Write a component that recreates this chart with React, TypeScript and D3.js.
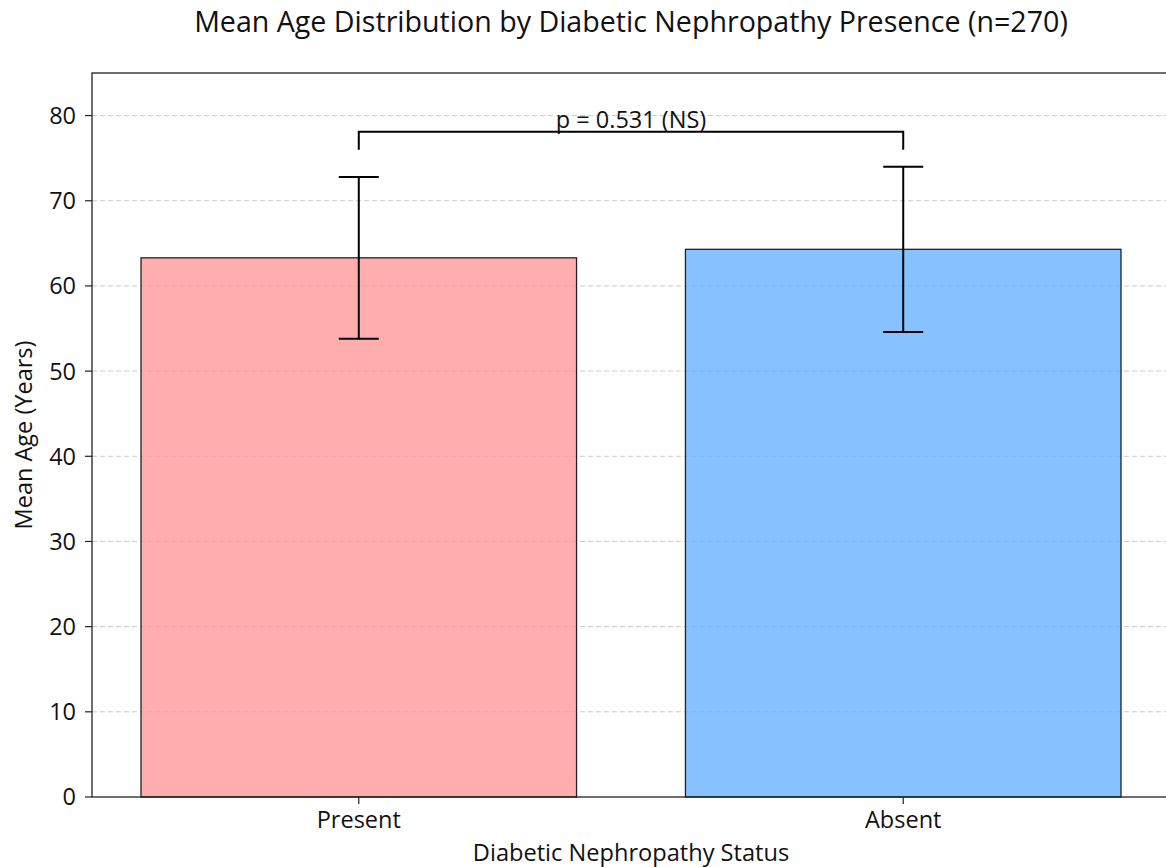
import React from 'react';
import * as d3 from 'd3';

const groups = ['Present', 'Absent'];
const means = [63.3, 64.3];
const sds = [9.5, 9.7];
const barColors = ['#ff9999', '#66b3ff'];
const yTicks = [0, 10, 20, 30, 40, 50, 60, 70, 80];
const pLabel = 'p = 0.531 (NS)';
const bracketTop = 78.1;
const bracketBottom = 76.0;

const font = '"Open Sans", sans-serif';

const App = () => {
  const width = 1166;
  const height = 867;
  const margin = { left: 92, top: 73, right: -4, bottom: 70 };

  const x = d3
    .scaleLinear()
    .domain([-0.49, 1.49])
    .range([margin.left, width - margin.right]);
  const y = d3
    .scaleLinear()
    .domain([0, 85])
    .range([height - margin.bottom, margin.top]);

  const bw = x(0.4) - x(0);
  const capW = 20;

  return (
    <svg
      width={width}
      height={height}
      style={{ position: 'absolute', left: 0, top: 0, background: '#fff' }}
      fontFamily={font}
    >
      <text x={631} y={32} textAnchor="middle" fontSize="28.6px" fill="#111">
        Mean Age Distribution by Diabetic Nephropathy Presence (n=270)
      </text>

      {yTicks.map(t => (
        <g key={t}>
          {t > 0 && (
            <line
              x1={x.range()[0]}
              x2={x.range()[1]}
              y1={y(t)}
              y2={y(t)}
              stroke="#c8c8c8"
              strokeWidth={1}
              strokeDasharray="5,3"
            />
          )}
          <line x1={x.range()[0] - 7} x2={x.range()[0]} y1={y(t)} y2={y(t)} stroke="#222" strokeWidth={1.2} />
          <text
            x={x.range()[0] - 16}
            y={y(t)}
            dy="0.36em"
            textAnchor="end"
            fontSize="23.5px"
            fill="#111"
          >
            {t}
          </text>
        </g>
      ))}

      {groups.map((g, i) => (
        <g key={g}>
          <rect
            x={x(i) - bw}
            y={y(means[i])}
            width={bw * 2}
            height={y(0) - y(means[i])}
            fill={barColors[i]}
            fillOpacity={0.8}
            stroke="#222"
            strokeWidth={1.3}
          />
          <line x1={x(i)} x2={x(i)} y1={y(means[i] + sds[i])} y2={y(means[i] - sds[i])} stroke="#000" strokeWidth={2} />
          <line x1={x(i) - capW} x2={x(i) + capW} y1={y(means[i] + sds[i])} y2={y(means[i] + sds[i])} stroke="#000" strokeWidth={2} />
          <line x1={x(i) - capW} x2={x(i) + capW} y1={y(means[i] - sds[i])} y2={y(means[i] - sds[i])} stroke="#000" strokeWidth={2} />
          <line x1={x(i)} x2={x(i)} y1={y(0)} y2={y(0) + 7} stroke="#222" strokeWidth={1.2} />
          <text x={x(i)} y={y(0) + 31} textAnchor="middle" fontSize="23.5px" fill="#111">
            {g}
          </text>
        </g>
      ))}

      <path
        d={`M${x(0)},${y(bracketBottom)}V${y(bracketTop)}H${x(1)}V${y(bracketBottom)}`}
        fill="none"
        stroke="#000"
        strokeWidth={2}
      />
      <text x={(x(0) + x(1)) / 2} y={y(bracketTop) - 4} textAnchor="middle" fontSize="23.5px" fill="#111">
        {pLabel}
      </text>

      <rect
        x={x.range()[0]}
        y={margin.top}
        width={x.range()[1] - x.range()[0]}
        height={y(0) - margin.top}
        fill="none"
        stroke="#222"
        strokeWidth={1.3}
      />

      <text x={631} y={861} textAnchor="middle" fontSize="23.6px" fill="#111">
        Diabetic Nephropathy Status
      </text>
      <text
        transform={`translate(32, ${(margin.top + y(0)) / 2}) rotate(-90)`}
        textAnchor="middle"
        fontSize="23.5px"
        fill="#111"
      >
        Mean Age (Years)
      </text>
    </svg>
  );
};

export default App;
